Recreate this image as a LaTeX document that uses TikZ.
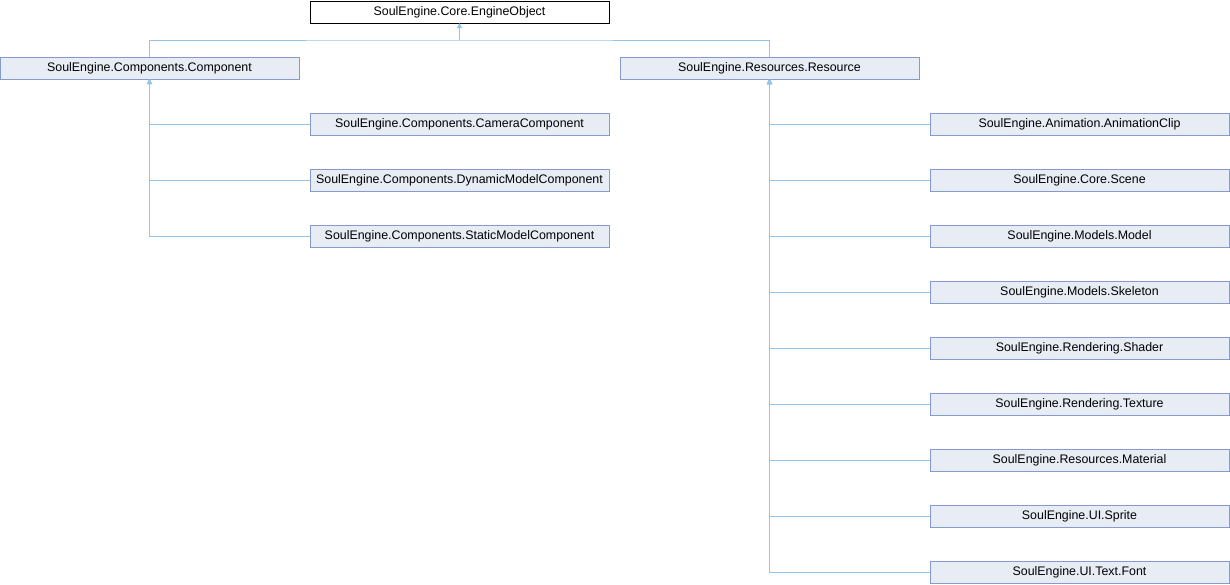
\documentclass[tikz,border=0pt]{standalone}
\usepackage{fontspec}
\setmainfont{Liberation Sans}
\usetikzlibrary{arrows.meta, positioning}
\definecolor{classfill}{RGB}{232,236,244}
\definecolor{classdraw}{RGB}{132,155,204}
\definecolor{linkcolor}{RGB}{145,198,234}
\tikzstyle{hierarchy}=[x=1pt, y=1pt, node distance=34pt and 11pt,
  font=\fontsize{12.4}{14}\selectfont]
\tikzstyle{class}=[draw=classdraw, fill=classfill, line width=0.9pt,
  minimum width=299pt, minimum height=22pt, inner sep=0pt, outer sep=0pt]
\tikzstyle{root}=[class, draw=black, fill=white]
\tikzstyle{link}=[draw=linkcolor, line width=1pt,
  >={Triangle[length=5pt, width=5pt]}]

\begin{document}
\begin{tikzpicture}[hierarchy]
  \useasboundingbox (0,0) rectangle (1230,-584);
  \node[root] (obj) at (459.5,-12) {SoulEngine.Core.EngineObject};
  \node[class] (comp) [below left=of obj] {SoulEngine.Components.Component};
  \node[class] (res) [below right=of obj] {SoulEngine.Resources.Resource};
  % components
  \node[class] (cam) [below right=of comp] {SoulEngine.Components.CameraComponent};
  \node[class] (dyn) [below=of cam] {SoulEngine.Components.DynamicModelComponent};
  \node[class] (stat) [below=of dyn] {SoulEngine.Components.StaticModelComponent};
  % resources
  \node[class] (anim) [below right=of res] {SoulEngine.Animation.AnimationClip};
  \node[class] (scene) [below=of anim] {SoulEngine.Core.Scene};
  \node[class] (model) [below=of scene] {SoulEngine.Models.Model};
  \node[class] (skel) [below=of model] {SoulEngine.Models.Skeleton};
  \node[class] (shader) [below=of skel] {SoulEngine.Rendering.Shader};
  \node[class] (tex) [below=of shader] {SoulEngine.Rendering.Texture};
  \node[class] (mat) [below=of tex] {SoulEngine.Resources.Material};
  \node[class] (sprite) [below=of mat] {SoulEngine.UI.Sprite};
  \node[class] (font) [below=of sprite] {SoulEngine.UI.Text.Font};
  \coordinate (bus) at ([yshift=-17pt]obj.south);
  \draw[link, <-] (obj.south) -- (bus);
  \draw[link] (comp.north) |- (bus) -| (res.north);
  \foreach \c in {cam, dyn, stat}
    \draw[link, <-] (comp.south) |- (\c.west);
  \foreach \c in {anim, scene, model, skel, shader, tex, mat, sprite, font}
    \draw[link, <-] (res.south) |- (\c.west);
\end{tikzpicture}
\end{document}
